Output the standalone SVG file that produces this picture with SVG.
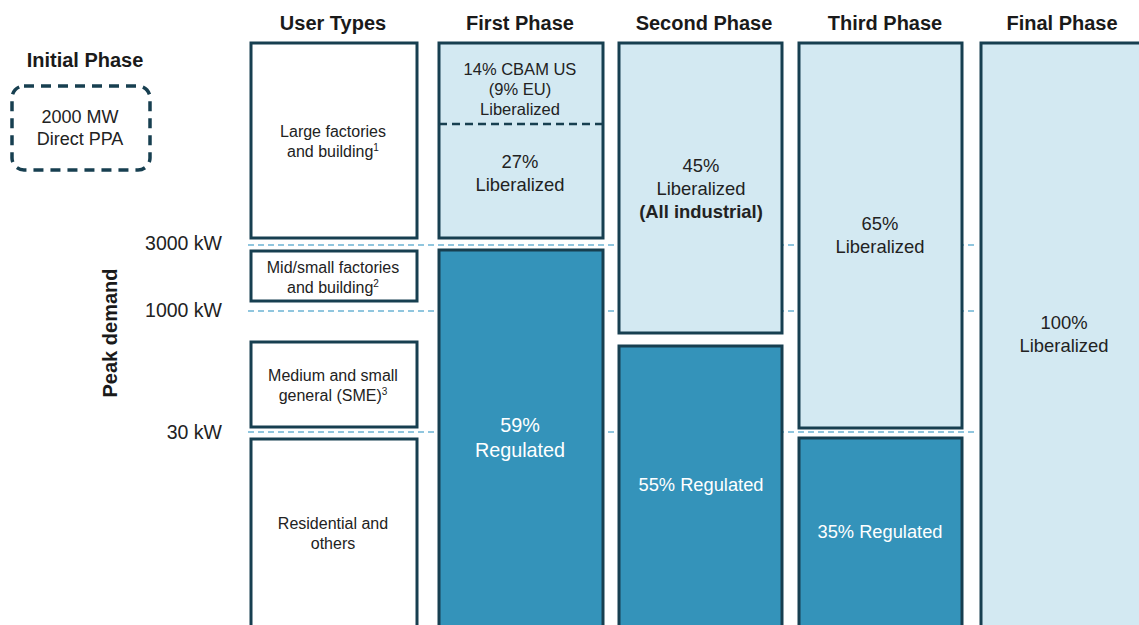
<svg xmlns="http://www.w3.org/2000/svg" width="1139" height="625" viewBox="0 0 1139 625">
  <style>
    .hdr { font-family: "Liberation Sans", Arial, sans-serif; font-weight: bold; font-size: 20px; fill: #1a1a1a; text-anchor: middle; }
    .axis { font-family: "Liberation Sans", Arial, sans-serif; font-size: 19.5px; fill: #222; text-anchor: end; }
    .usr { font-family: "Liberation Sans", Arial, sans-serif; font-size: 16px; fill: #222; text-anchor: middle; }
    .lbl { font-family: "Liberation Sans", Arial, sans-serif; font-size: 18.4px; fill: #222; text-anchor: middle; }
    .sm { font-size: 16.5px; }
    .wht { fill: #ffffff; font-size: 18.3px; }
    .big { font-size: 19.8px; }
    .b { font-weight: bold; }
    .white { fill: #ffffff; stroke: #173f50; stroke-width: 3; }
    .lite { fill: #d3e9f2; stroke: #173f50; stroke-width: 3; }
    .dark { fill: #3493ba; stroke: #173f50; stroke-width: 3; }
    .lvl { stroke: #6cb4d3; stroke-width: 1.3; stroke-dasharray: 6 4; fill: none; }
  </style>

  <!-- threshold guide lines, drawn under the columns -->
  <g id="connectors">
    <line class="lvl" x1="248" y1="245" x2="976" y2="245"/>
    <line class="lvl" x1="248" y1="311" x2="976" y2="311"/>
    <line class="lvl" x1="248" y1="432" x2="976" y2="432"/>
  </g>

  <!-- column headers -->
  <text class="hdr" x="333" y="30">User Types</text>
  <text class="hdr" x="520" y="30">First Phase</text>
  <text class="hdr" x="704" y="30">Second Phase</text>
  <text class="hdr" x="885" y="30">Third Phase</text>
  <text class="hdr" x="1062" y="30">Final Phase</text>

  <!-- initial phase -->
  <g id="initial-phase">
    <text class="hdr" x="85" y="67">Initial Phase</text>
    <rect x="12" y="86" width="138" height="84" rx="12" fill="none" stroke="#173f50" stroke-width="3.5" stroke-dasharray="10 7"/>
    <text class="lbl" x="80" y="123" style="font-size:18px">2000 MW</text>
    <text class="lbl" x="80" y="145" style="font-size:18px">Direct PPA</text>
  </g>

  <!-- peak demand axis -->
  <text class="hdr" x="0" y="0" transform="translate(117,333) rotate(-90)">Peak demand</text>
  <text class="axis" x="222" y="250">3000 kW</text>
  <text class="axis" x="222" y="317">1000 kW</text>
  <text class="axis" x="222" y="439">30 kW</text>

  <!-- user types -->
  <g id="user-large">
    <rect class="white" x="251" y="43" width="166" height="195"/>
    <text class="usr" x="333" y="137">Large factories</text>
    <text class="usr" x="333" y="157">and building<tspan dy="-6" font-size="10">1</tspan></text>
  </g>
  <g id="user-midsmall">
    <rect class="white" x="251" y="251" width="166" height="50"/>
    <text class="usr" x="333" y="273">Mid/small factories</text>
    <text class="usr" x="333" y="293">and building<tspan dy="-6" font-size="10">2</tspan></text>
  </g>
  <g id="user-sme">
    <rect class="white" x="251" y="342" width="166" height="85"/>
    <text class="usr" x="333" y="381">Medium and small</text>
    <text class="usr" x="333" y="401">general (SME)<tspan dy="-6" font-size="10">3</tspan></text>
  </g>
  <g id="user-residential">
    <rect class="white" x="251" y="439" width="166" height="200"/>
    <text class="usr" x="333" y="529">Residential and</text>
    <text class="usr" x="333" y="549">others</text>
  </g>

  <!-- first phase -->
  <g id="first-liberalized">
    <rect class="lite" x="439" y="43" width="164" height="195"/>
    <line x1="439" y1="124" x2="603" y2="124" stroke="#173f50" stroke-width="2.5" stroke-dasharray="8 5"/>
    <text class="lbl sm" x="520" y="75">14% CBAM US</text>
    <text class="lbl sm" x="520" y="95">(9% EU)</text>
    <text class="lbl sm" x="520" y="115">Liberalized</text>
    <text class="lbl" x="520" y="168">27%</text>
    <text class="lbl" x="520" y="191">Liberalized</text>
  </g>
  <g id="first-regulated">
    <rect class="dark" x="439" y="250" width="164" height="390"/>
    <text class="lbl wht big" x="520" y="432">59%</text>
    <text class="lbl wht big" x="520" y="457">Regulated</text>
  </g>

  <!-- second phase -->
  <g id="second-liberalized">
    <rect class="lite" x="619" y="43" width="163" height="290"/>
    <text class="lbl" x="701" y="172">45%</text>
    <text class="lbl" x="701" y="195">Liberalized</text>
    <text class="lbl b" x="701" y="218">(All industrial)</text>
  </g>
  <g id="second-regulated">
    <rect class="dark" x="619" y="346" width="163" height="294"/>
    <text class="lbl wht" x="701" y="491">55% Regulated</text>
  </g>

  <!-- third phase -->
  <g id="third-liberalized">
    <rect class="lite" x="799" y="43" width="163" height="385"/>
    <text class="lbl" x="880" y="230">65%</text>
    <text class="lbl" x="880" y="253">Liberalized</text>
  </g>
  <g id="third-regulated">
    <rect class="dark" x="799" y="438" width="163" height="202"/>
    <text class="lbl wht" x="880" y="538">35% Regulated</text>
  </g>

  <!-- final phase -->
  <g id="final-liberalized">
    <rect class="lite" x="981" y="43" width="170" height="597"/>
    <text class="lbl" x="1064" y="329">100%</text>
    <text class="lbl" x="1064" y="352">Liberalized</text>
  </g>
</svg>
